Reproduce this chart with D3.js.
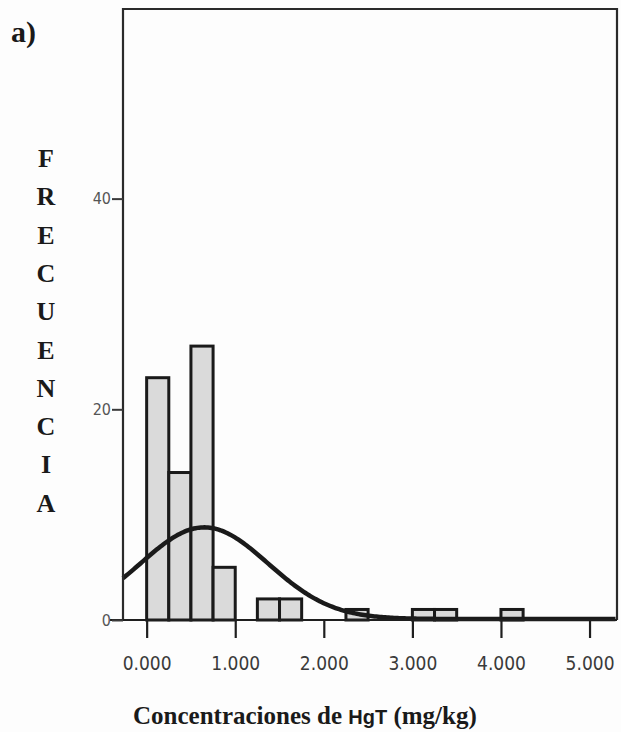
<!DOCTYPE html>
<html>
<head>
<meta charset="utf-8">
<script src="https://cdn.jsdelivr.net/npm/d3@7"></script>
<style>
  html, body { margin: 0; padding: 0; background: #ffffff; }
  svg { display: block; }
</style>
</head>
<body>
<svg id="chart" width="621" height="732"></svg>
<script>
// ---- data ----
const binStarts = [0, 0.25, 0.5, 0.75, 1.25, 1.5, 2.25, 3.0, 3.25, 4.0];
const binCounts = [23, 14, 26, 5, 2, 2, 1, 1, 1, 1];
const binWidth = 0.25;
const xTicks = [0, 1, 2, 3, 4, 5];
const xTickLabels = ["0.000", "1.000", "2.000", "3.000", "4.000", "5.000"];
const yTicks = [0, 20, 40];
const yTickLabels = ["0", "20", "40"];
const normalMean = 0.65;
const normalSd = 0.72;
const normalPeak = 8.7;
const yLetters = ["F", "R", "E", "C", "U", "E", "N", "C", "I", "A"];

// ---- layout ----
const svg = d3.select("#chart");
const plotL = 123, plotR = 617, plotT = 9, plotB = 620;

const x = d3.scaleLinear().domain([-0.267, 5.31]).range([plotL, plotR]);
const y = d3.scaleLinear().domain([0, 58]).range([plotB, plotT]);

svg.append("rect").attr("width", 621).attr("height", 732).attr("fill", "#fdfdfd");

// bars
svg.append("g").selectAll("rect")
  .data(binStarts.map((s, i) => ({ s, c: binCounts[i] })))
  .join("rect")
  .attr("x", d => x(d.s))
  .attr("y", d => y(d.c))
  .attr("width", d => x(d.s + binWidth) - x(d.s))
  .attr("height", d => y(0) - y(d.c))
  .attr("fill", "#dadada")
  .attr("stroke", "#1a1a1a")
  .attr("stroke-width", 3);

// normal curve
const curvePts = d3.range(x.domain()[0], x.domain()[1] + 0.001, 0.02).map(v => [v, normalPeak * Math.exp(-0.5 * Math.pow((v - normalMean) / normalSd, 2))]);
svg.append("path")
  .datum(curvePts)
  .attr("fill", "none")
  .attr("stroke", "#1a1a1a")
  .attr("stroke-width", 4.5)
  .attr("d", d3.line().x(d => x(d[0])).y(d => y(d[1]) - 1).curve(d3.curveLinear));

// frame
svg.append("path")
  .attr("d", `M${plotL},${plotB} V${plotT} H${plotR} V${plotB}`)
  .attr("fill", "none").attr("stroke", "#2a2a2a").attr("stroke-width", 2.2);

// x axis
const xAxis = d3.axisBottom(x).tickValues(xTicks).tickSize(18).tickSizeOuter(0)
  .tickFormat((d, i) => xTickLabels[i]);
const gx = svg.append("g").attr("transform", `translate(0,${plotB})`).call(xAxis);
gx.select(".domain").remove();
gx.selectAll(".tick line").attr("stroke", "#1e1e1e").attr("stroke-width", 2.2);
gx.selectAll(".tick text")
  .attr("y", 37)
  .attr("font-family", "'Liberation Sans Narrow', 'DejaVu Sans Condensed', sans-serif")
  .attr("font-size", 19)
  .attr("fill", "#3a3a3a");
svg.append("line").attr("x1", 110).attr("x2", plotR).attr("y1", plotB).attr("y2", plotB)
  .attr("stroke", "#1e1e1e").attr("stroke-width", 2.2);

// y axis
const yAxis = d3.axisLeft(y).tickValues(yTicks).tickSize(11).tickSizeOuter(0)
  .tickFormat((d, i) => yTickLabels[i]);
const gy = svg.append("g").attr("transform", `translate(${plotL},0)`).call(yAxis);
gy.select(".domain").remove();
gy.selectAll(".tick line").attr("stroke", "#3a3a3a").attr("stroke-width", 2);
gy.selectAll(".tick text")
  .attr("x", -12)
  .attr("font-family", "'Liberation Sans Narrow', 'DejaVu Sans Condensed', sans-serif")
  .attr("font-size", 16)
  .attr("fill", "#555");

// panel label
svg.append("text").attr("x", 11).attr("y", 42)
  .attr("font-family", "'Liberation Serif', 'DejaVu Serif', serif")
  .attr("font-weight", "bold").attr("font-size", 30).attr("fill", "#1a1a1a")
  .text("a)");

// vertical letters
svg.append("g").selectAll("text").data(yLetters).join("text")
  .attr("x", 46)
  .attr("y", (d, i) => 167 + i * 38.3)
  .attr("text-anchor", "middle")
  .attr("font-family", "'Liberation Serif', 'DejaVu Serif', serif")
  .attr("font-weight", "bold").attr("font-size", 26).attr("fill", "#1a1a1a")
  .text(d => d);

// x axis title
const xt = svg.append("text").attr("x", 133).attr("y", 724)
  .attr("font-family", "'Liberation Serif', 'DejaVu Serif', serif")
  .attr("font-weight", "bold").attr("font-size", 25).attr("fill", "#1a1a1a");
xt.append("tspan").text("Concentraciones de ");
xt.append("tspan").attr("font-family", "'Liberation Sans', Arial, sans-serif").attr("font-size", 20).text("HgT");
xt.append("tspan").text(" (mg/kg)");
</script>
</body>
</html>
